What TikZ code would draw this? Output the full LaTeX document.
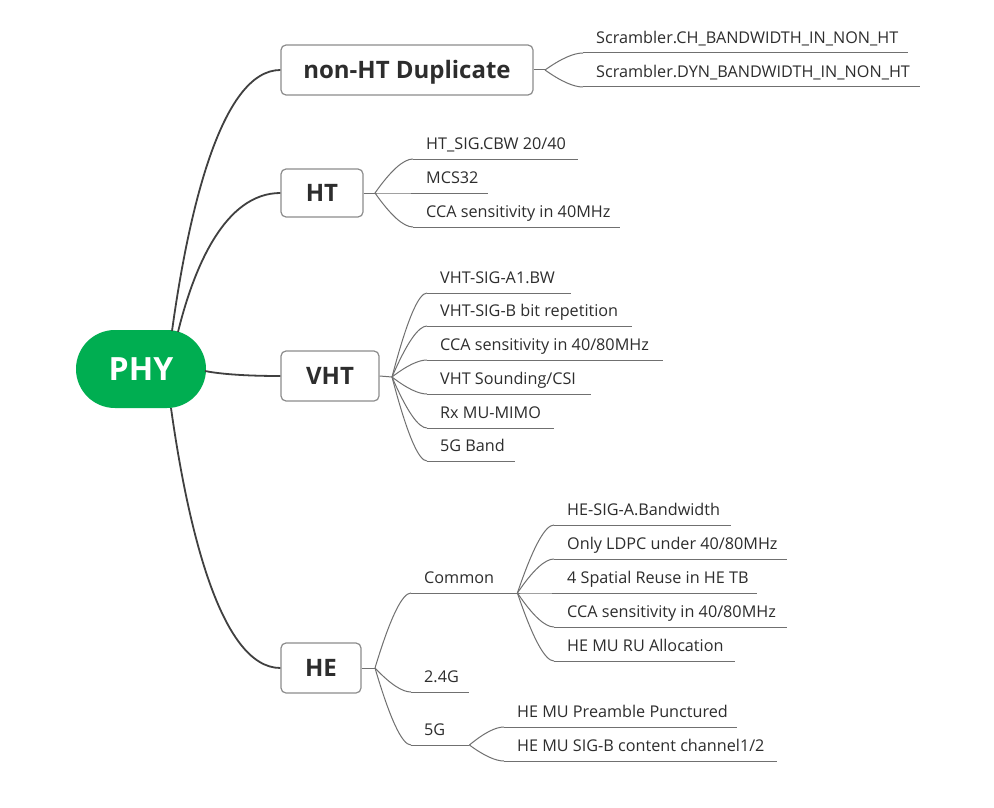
\documentclass[tikz,border=0pt]{standalone}
\usepackage{fontspec}
\setmainfont{Open Sans}
\usetikzlibrary{calc}
\definecolor{phygreen}{RGB}{0,174,81}
\definecolor{txt}{RGB}{45,45,45}
\definecolor{trunkc}{RGB}{64,64,64}
\definecolor{twigc}{RGB}{112,112,112}
\definecolor{boxc}{RGB}{140,140,140}
\newcommand{\leafnode}[5]{\node[leaf] (#1) at (#2,#3) {\makebox[#4pt][l]{#5}};}
\tikzset{
  phystyle/.style={fill=phygreen, rounded corners=38.9pt, minimum width=130pt, minimum height=78pt,
    inner sep=0pt, text=white, font=\fontsize{32}{36}\selectfont\bfseries, text height=23pt, text depth=0pt},
  topic/.style={draw=boxc, line width=1.2pt, rounded corners=5pt, fill=white, text=txt,
    font=\fontsize{24}{28}\selectfont\bfseries, inner sep=0pt, text height=17pt, text depth=0pt},
  leaf/.style={anchor=south west, inner xsep=13pt, inner ysep=0pt, text height=12pt, text depth=9pt,
    text=txt, font=\fontsize{16.2}{20}\selectfont},
  uline/.style={draw=twigc, line width=1pt},
  stub/.style={draw=twigc, line width=1pt},
  twig/.style={draw=twigc, line width=1pt,
    to path={let \p1=(\tikztostart), \p2=(\tikztotarget) in
      .. controls ({\x1+0.42*(\x2-\x1)},{\y1+0.667*(\y2-\y1)}) and ({\x1+0.753*(\x2-\x1)},\y2) .. (\tikztotarget)}},
  trunk/.style={draw=trunkc, line width=1.8pt,
    to path={let \p1=(\tikztostart), \p2=(\tikztotarget) in
      .. controls ({\x1+0.15*(\x2-\x1)},{\y1+0.45*(\y2-\y1)}) and ({\x1+0.45*(\x2-\x1)},\y2) .. (\tikztotarget)}}
}
\begin{document}
\begin{tikzpicture}[x=1pt,y=-1pt]
\useasboundingbox[fill=white] (0,0) rectangle (994,808);

% main topics
\node[phystyle] (phy) at (141,369) {PHY};
\node[topic, minimum width=252pt, minimum height=50pt] (nonht) at (407,70) {non-HT Duplicate};
\node[topic, minimum width=82pt, minimum height=48pt] (ht) at (322,193) {HT};
\node[topic, minimum width=98pt, minimum height=50pt] (vht) at (330,376) {VHT};
\node[topic, minimum width=80pt, minimum height=50pt] (he) at (321,668) {HE};

% attachment points on PHY
\coordinate (phyA) at ($(phy.center)+(31,-38)$);
\coordinate (phyB) at ($(phy.center)+(37,-37)$);
\coordinate (phyC) at ($(phy.center)+(64,2)$);
\coordinate (phyD) at ($(phy.center)+(30,39)$);

% branch points
\coordinate (bNon) at (545,70);
\coordinate (bHT) at (375,193);
\coordinate (bVHT) at (392,377);
\coordinate (bHE) at (375,668);

% leaves
\leafnode{n1}{583}{53}{299}{Scrambler.CH\_BANDWIDTH\_IN\_NON\_HT}
\leafnode{n2}{583}{87}{311}{Scrambler.DYN\_BANDWIDTH\_IN\_NON\_HT}

\leafnode{h1}{413}{159}{139}{HT\_SIG.CBW 20/40}
\leafnode{h2}{413}{193}{49}{MCS32}
\leafnode{h3}{413}{227}{181}{CCA sensitivity in 40MHz}

\leafnode{v1}{427}{293}{118}{VHT-SIG-A1.BW}
\leafnode{v2}{427}{326}{179}{VHT-SIG-B bit repetition}
\leafnode{v3}{427}{360}{210}{CCA sensitivity in 40/80MHz}
\leafnode{v4}{427}{394}{138}{VHT Sounding/CSI}
\leafnode{v5}{427}{428}{101}{Rx MU-MIMO}
\leafnode{v6}{427}{461}{62}{5G Band}

\leafnode{e1}{411}{593}{80}{Common}
\leafnode{e2}{411}{692}{32}{2.4G}
\leafnode{e3}{411}{745}{32}{5G}

\leafnode{c1}{554}{525}{151}{HE-SIG-A.Bandwidth}
\leafnode{c2}{554}{559}{207}{Only LDPC under 40/80MHz}
\leafnode{c3}{554}{593}{177}{4 Spatial Reuse in HE TB}
\leafnode{c4}{554}{627}{207}{CCA sensitivity in 40/80MHz}
\leafnode{c5}{554}{661}{155}{HE MU RU Allocation}

\leafnode{g1}{504}{727}{207}{HE MU Preamble Punctured}
\leafnode{g2}{504}{761}{247}{HE MU SIG-B content channel1/2}

% underlines
\foreach \k in {n1,n2,h1,h2,h3,v1,v2,v3,v4,v5,v6,e1,e2,e3,c1,c2,c3,c4,c5,g1,g2}
  \draw[uline] (\k.south west) -- (\k.south east);

% trunk connectors
\draw[trunk] (phyA) to (nonht.west);
\draw[trunk] (phyB) to (ht.west);
\draw[trunk] (phyC) to (vht.west);
\draw[trunk] (phyD) to (he.west);

% stubs
\draw[stub] (nonht.east) -- (bNon);
\draw[stub] (ht.east) -- (bHT);
\draw[stub] (vht.east) -- (bVHT);
\draw[stub] (he.east) -- (bHE);

% twigs
\foreach \k in {n1,n2} \draw[twig] (bNon) to (\k.south west);
\foreach \k in {h1,h2,h3} \draw[twig] (bHT) to (\k.south west);
\foreach \k in {v1,v2,v3,v4,v5,v6} \draw[twig] (bVHT) to (\k.south west);
\foreach \k in {e1,e2,e3} \draw[twig] (bHE) to (\k.south west);
\foreach \k in {c1,c2,c3,c4,c5} \draw[twig] (e1.south east) to (\k.south west);
\foreach \k in {g1,g2} \draw[twig] (e3.south east) to (\k.south west);
\end{tikzpicture}
\end{document}
